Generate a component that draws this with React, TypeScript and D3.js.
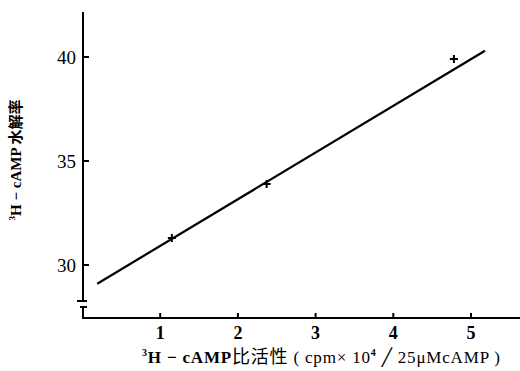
import { useEffect, useRef } from 'react';
import * as d3 from 'd3';

// measured points
const pointX = [1.15, 2.37, 4.78];
const pointY = [31.3, 33.9, 39.9];

// fitted line end points
const fitX = [0.19, 5.18];
const fitY = [29.1, 40.3];

const xTicks = [1, 2, 3, 4, 5];
const yTicks = [30, 35, 40];

export default function App() {
    const ref = useRef<SVGSVGElement>(null);

    useEffect(() => {
        if (!ref.current) return;
        const svg = d3.select(ref.current);
        svg.selectAll('*').remove();

        const width = 520;
        const height = 371;
        const font = '"Liberation Serif", "DejaVu Serif", serif';
        const cjk = '"Noto Sans CJK SC", sans-serif';

        svg.attr('width', width).attr('height', height);

        const x = d3.scaleLinear().domain([0, 5]).range([82.5, 471]);
        const y = d3.scaleLinear().domain([30, 40]).range([265, 57]);

        const axisX = 83;
        const axisY = 318;

        // y axis with break
        svg.append('path')
            .attr('d', `M${axisX},12V301M77,301H87M80,307H87M${axisX},307V${axisY}H${width}`)
            .attr('fill', 'none')
            .attr('stroke', '#000')
            .attr('stroke-width', 2);

        // y ticks
        svg.selectAll('.ytick')
            .data(yTicks)
            .enter()
            .append('line')
            .attr('x1', axisX)
            .attr('x2', axisX + 6)
            .attr('y1', d => y(d))
            .attr('y2', d => y(d))
            .attr('stroke', '#000')
            .attr('stroke-width', 2);

        svg.selectAll('.ylabel')
            .data(yTicks)
            .enter()
            .append('text')
            .attr('x', 76)
            .attr('y', d => y(d))
            .attr('dy', '0.35em')
            .attr('text-anchor', 'end')
            .attr('font-family', font)
            .attr('font-size', 19)
            .text(d => d);

        // x ticks
        svg.selectAll('.xtick')
            .data(xTicks)
            .enter()
            .append('line')
            .attr('x1', d => x(d))
            .attr('x2', d => x(d))
            .attr('y1', axisY)
            .attr('y2', axisY - 5)
            .attr('stroke', '#000')
            .attr('stroke-width', 2);

        svg.selectAll('.xlabel')
            .data(xTicks)
            .enter()
            .append('text')
            .attr('x', d => x(d))
            .attr('y', 339)
            .attr('text-anchor', 'middle')
            .attr('font-family', font)
            .attr('font-size', 18)
            .attr('font-weight', 'bold')
            .text(d => d);

        // fitted line
        const line = d3.line<number>()
            .x(d => x(fitX[d]))
            .y(d => y(fitY[d]));
        svg.append('path')
            .attr('d', line([0, 1]))
            .attr('fill', 'none')
            .attr('stroke', '#000')
            .attr('stroke-width', 2.2);

        // crosses
        const s = 4;
        svg.selectAll('.pt')
            .data(pointX.map((px, i) => [px, pointY[i]]))
            .enter()
            .append('path')
            .attr('d', d => `M${x(d[0]) - s},${y(d[1])}H${x(d[0]) + s}M${x(d[0])},${y(d[1]) - s}V${y(d[1]) + s}`)
            .attr('stroke', '#000')
            .attr('stroke-width', 2);

        // x title
        const xt = svg.append('text')
            .attr('x', 142)
            .attr('y', 363)
            .attr('font-family', font)
            .attr('font-size', 17)
            .attr('font-weight', 'bold')
            .attr('textLength', 358)
            .attr('lengthAdjust', 'spacing');
        xt.append('tspan').attr('font-size', 10).attr('dy', -7).text('3');
        xt.append('tspan').attr('dy', 7).text('H − cAMP');
        xt.append('tspan').attr('font-family', cjk).attr('font-weight', 'normal').attr('font-size', 18).text('比活性');
        xt.append('tspan').attr('font-weight', 'normal').text(' ( cpm× 10');
        xt.append('tspan').attr('font-size', 10).attr('dy', -7).text('4');
        xt.append('tspan').attr('dy', 7).attr('font-weight', 'normal').text(' ╱ 25μMcAMP )');

        // y title
        const yt = svg.append('text')
            .attr('transform', 'translate(21,160) rotate(-90)')
            .attr('text-anchor', 'middle')
            .attr('font-family', font)
            .attr('font-size', 15)
            .attr('font-weight', 'bold');
        yt.append('tspan').attr('font-size', 9).attr('dy', -6).text('3');
        yt.append('tspan').attr('dy', 6).text('H − cAMP ');
        yt.append('tspan').attr('font-family', cjk).text('水解率');
    }, []);

    return <svg ref={ref} style={{ position: 'absolute', left: 0, top: 0 }} />;
}
